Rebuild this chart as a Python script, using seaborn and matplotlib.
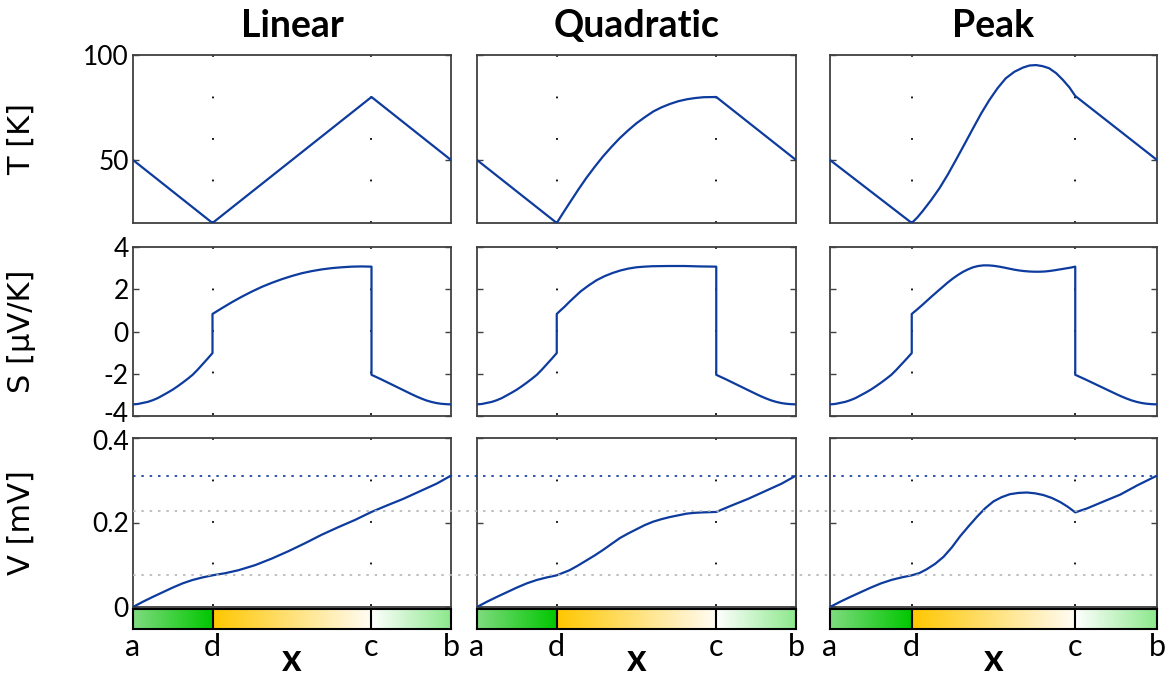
import numpy as np
import matplotlib
matplotlib.use("Agg")
import matplotlib.pyplot as plt
import matplotlib.transforms as mtransforms
import seaborn as sns

# ---------------- data ----------------
col_titles = ["Linear", "Quadratic", "Peak"]
row_labels = ["T [K]", "S [\u03bcV/K]", "V [mV]"]
pos_labels = ["a", "d", "c", "b"]
pos_values = [0, 1, 3, 4]

# Temperature profiles
T_lin_x = [0, 1, 3, 4]
T_lin = [50, 20, 80, 50]
T_quad_x = [0, 1, 1.08, 1.16, 1.265, 1.37, 1.475, 1.58, 1.685, 1.79, 1.895, 2.0,
            2.105, 2.21, 2.315, 2.42, 2.525, 2.63, 2.735, 2.84, 3.0, 4]
T_quad = [50, 20, 24.8, 29.5, 35.6, 41.4, 46.7, 51.7, 56.2, 60.4, 64.1, 67.5,
          70.4, 73.1, 75.1, 76.7, 78.0, 78.9, 79.5, 79.9, 80, 50]
T_peak_x = [0, 1, 1.065, 1.13, 1.235, 1.34, 1.44, 1.54, 1.645, 1.75, 1.85, 1.95,
            2.05, 2.15, 2.255, 2.36, 2.44, 2.52, 2.60, 2.68, 2.765, 2.85, 2.93, 3.0, 4]
T_peak = [50, 20, 22.5, 25.5, 30.8, 36.6, 43.0, 50.0, 57.5, 65.1, 72.2, 78.6,
          84.2, 88.9, 92.0, 94.0, 95.0, 95.2, 94.7, 93.7, 91.4, 88.1, 84.5, 80.5, 50]

# Seebeck coefficient, outer material (a-d and c-b)
S_ad_x = [0, 0.0625, 0.125, 0.1875, 0.25, 0.3125, 0.375, 0.4375, 0.5, 0.5625,
          0.625, 0.6875, 0.75, 0.8125, 0.875, 0.9375, 1.0]
S_ad = [-3.45, -3.43, -3.38, -3.33, -3.25, -3.15, -3.02, -2.89, -2.75, -2.59,
        -2.42, -2.24, -2.05, -1.81, -1.55, -1.29, -1.02]
S_cb_x = [3.0, 3.0625, 3.125, 3.1875, 3.25, 3.3125, 3.375, 3.4375, 3.5, 3.5625,
          3.625, 3.6875, 3.75, 3.8125, 3.875, 3.9375, 4.0]
S_cb = [-2.05, -2.16, -2.27, -2.385, -2.50, -2.615, -2.73, -2.845, -2.96, -3.07,
        -3.17, -3.26, -3.33, -3.385, -3.42, -3.44, -3.45]
# Seebeck coefficient, inner material (d-c)
S_lin_dc_x = [1.0, 1.125, 1.25, 1.375, 1.5, 1.625, 1.75, 1.875, 2.0, 2.125, 2.25,
              2.375, 2.5, 2.625, 2.75, 2.875, 3.0]
S_lin_dc = [0.83, 1.12, 1.40, 1.66, 1.90, 2.12, 2.31, 2.48, 2.63, 2.76, 2.86,
            2.94, 3.00, 3.04, 3.07, 3.08, 3.07]
S_quad_dc_x = [1.0, 1.05, 1.1, 1.15, 1.2, 1.3, 1.4, 1.5, 1.6, 1.7, 1.8, 1.9, 2.0,
               2.1, 2.2, 2.4, 2.6, 2.8, 3.0]
S_quad_dc = [0.83, 1.01, 1.18, 1.37, 1.55, 1.90, 2.18, 2.43, 2.62, 2.77, 2.89,
             2.98, 3.04, 3.07, 3.09, 3.10, 3.10, 3.08, 3.07]
S_peak_dc_x = [1.0, 1.065, 1.13, 1.19, 1.25, 1.3125, 1.375, 1.4375, 1.5, 1.5625,
               1.625, 1.6875, 1.75, 1.8125, 1.875, 1.9375, 2.0, 2.0625, 2.125, 2.1875,
               2.25, 2.3125, 2.375, 2.4375, 2.5, 2.5625, 2.625, 2.6875, 2.75,
               2.8125, 2.875, 2.9375, 3.0]
S_peak_dc = [0.83, 1.04, 1.26, 1.47, 1.68, 1.89, 2.10, 2.31, 2.50, 2.67,
             2.82, 2.94, 3.04, 3.10, 3.13, 3.13, 3.11, 3.075, 3.03, 2.98,
             2.93, 2.89, 2.86, 2.84, 2.83, 2.83, 2.84, 2.865, 2.90,
             2.94, 2.98, 3.02, 3.07]

# Voltage
V_ad_x = [0, 0.125, 0.25, 0.375, 0.5, 0.625, 0.75, 0.875, 1.0]
V_ad = [0, 0.0125, 0.024, 0.035, 0.046, 0.056, 0.064, 0.070, 0.075]
V_lin_dc_x = [1.0, 1.16, 1.325, 1.535, 1.744, 1.954, 2.164, 2.373, 2.583, 2.792, 3.0]
V_lin_dc = [0.075, 0.080, 0.087, 0.099, 0.1145, 0.132, 0.151, 0.171, 0.189, 0.206, 0.225]
V_quad_dc_x = [1.0, 1.16, 1.265, 1.37, 1.475, 1.58, 1.685, 1.79, 1.895, 2.0, 2.105,
               2.21, 2.315, 2.42, 2.525, 2.63, 2.735, 2.84, 3.0]
V_quad_dc = [0.075, 0.087, 0.098, 0.110, 0.122, 0.135, 0.149, 0.163, 0.174, 0.184,
             0.194, 0.202, 0.208, 0.213, 0.217, 0.221, 0.223, 0.224, 0.225]
V_peak_dc_x = [1.0, 1.09, 1.18, 1.285, 1.39, 1.49, 1.59, 1.695, 1.80, 1.90, 2.0,
               2.10, 2.20, 2.305, 2.41, 2.51, 2.61, 2.715, 2.82, 2.91, 3.0]
V_peak_dc = [0.075, 0.080, 0.089, 0.102, 0.119, 0.141, 0.167, 0.191, 0.214, 0.234,
             0.250, 0.260, 0.267, 0.270, 0.271, 0.269, 0.265, 0.258, 0.248, 0.237, 0.224]
V_cb_x = [3.0, 3.19, 3.40, 3.61, 3.82, 4.0]
V_cb = [0.225, 0.240, 0.256, 0.274, 0.292, 0.311]
V_peak_cb_x = [3.0, 3.14, 3.35, 3.55, 3.76, 4.0]
V_peak_cb = [0.224, 0.233, 0.250, 0.266, 0.288, 0.311]

V_ref_blue = [0.311]
V_ref_gray = [0.227, 0.0755]

# ---------------- styling ----------------
sns.set_theme(style="white")
plt.rcParams["font.family"] = ["Lato", "DejaVu Sans"]
for k in ["text.color", "axes.labelcolor", "xtick.color", "ytick.color"]:
    plt.rcParams[k] = "black"

LINE = "#0d3b9e"
FRAME = "#404040"
W, H = 1168, 675

def rect(l, r, t, b):
    return [l / W, 1 - b / H, (r - l) / W, (b - t) / H]

cols = [(133, 451), (477, 796), (830, 1157)]
rows = [(55, 223), (247, 416), (438, 607)]
cbar_tb = (609, 629)

fig = plt.figure(figsize=(11.68, 6.75), dpi=100)

T_data = [(T_lin_x, T_lin), (T_quad_x, T_quad), (T_peak_x, T_peak)]
S_dc = [(S_lin_dc_x, S_lin_dc), (S_quad_dc_x, S_quad_dc), (S_peak_dc_x, S_peak_dc)]
V_dc = [(V_lin_dc_x, V_lin_dc), (V_quad_dc_x, V_quad_dc), (V_peak_dc_x, V_peak_dc)]
V_cbs = [(V_cb_x, V_cb), (V_cb_x, V_cb), (V_peak_cb_x, V_peak_cb)]

ylims = [(20, 100), (-4, 4), (0, 0.4)]
yticks = [[50, 100], [-4, -2, 0, 2, 4], [0, 0.2, 0.4]]
yticklabels = [["50", "100"], ["-4", "-2", "0", "2", "4"], ["0", "0.2", "0.4"]]

TICK_FS = 19
LABEL_FS = 22
TITLE_FS = 27

def shift_label(lbl, dy_px):
    lbl.set_transform(lbl.get_transform() +
                      mtransforms.ScaledTranslation(0, dy_px / 100.0, fig.dpi_scale_trans))

for j, (l, r) in enumerate(cols):
    Sx = S_ad_x + S_dc[j][0] + S_cb_x
    Sy = S_ad + S_dc[j][1] + S_cb
    Vx = V_ad_x + V_dc[j][0][1:] + V_cbs[j][0][1:]
    Vy = V_ad + V_dc[j][1][1:] + V_cbs[j][1][1:]
    series = [T_data[j], (Sx, Sy), (Vx, Vy)]
    for i, (t, b) in enumerate(rows):
        ax = fig.add_axes(rect(l, r, t, b))
        xs, ys = series[i]
        sns.lineplot(x=xs, y=ys, ax=ax, estimator=None, sort=False,
                     color=LINE, lw=1.6, zorder=3)
        ax.set_xlim(0, 4)
        ax.set_ylim(*ylims[i])
        ax.set_yticks(yticks[i])
        ax.set_xticks([])
        ax.tick_params(axis="y", direction="in", length=4, width=1,
                       color=FRAME, left=True, right=True, pad=3)
        if j == 0:
            ax.set_yticklabels(yticklabels[i], fontsize=TICK_FS)
            ax.set_ylabel(row_labels[i], fontsize=LABEL_FS, family=["DejaVu Sans"])
            ax.yaxis.set_label_coords(-0.305, 0.5)
            tl = ax.get_yticklabels()
            if i == 1:
                shift_label(tl[0], 4)     # "-4" sits a little higher
            if i == 2:
                shift_label(tl[-1], -2)   # "0.4"
        else:
            ax.set_yticklabels([])
        for sp in ax.spines.values():
            sp.set_color(FRAME)
            sp.set_linewidth(1.3)
        for xv in pos_values[1:3]:
            ax.plot([xv, xv], [1, 0], transform=ax.get_xaxis_transform(),
                    color="black", lw=1.3, ls=(0, (1.0, 22.0)), zorder=2)
        if i == 0:
            ax.set_title(col_titles[j], fontsize=TITLE_FS, fontweight="bold", pad=13)
        ax.set_facecolor("white")

    # colour strip below the V panel
    cax = fig.add_axes(rect(l, r, cbar_tb[0], cbar_tb[1]))
    grads = [((0.50, 0.86, 0.50), (0.0, 0.78, 0.0), 0, 1),
             ((1.0, 0.78, 0.0), (1.0, 0.99, 0.96), 1, 3),
             ((1.0, 1.0, 1.0), (0.55, 0.91, 0.55), 3, 4)]
    for c0, c1, x0, x1 in grads:
        tt = np.linspace(0, 1, 256)[None, :, None]
        img = np.array(c0)[None, None, :] * (1 - tt) + np.array(c1)[None, None, :] * tt
        cax.imshow(img, extent=[x0, x1, 0, 1], aspect="auto", interpolation="bilinear")
    for xv in pos_values[1:3]:
        cax.axvline(xv, color="black", lw=1.5)
    cax.set_xlim(0, 4)
    cax.set_ylim(0, 1)
    for sp in cax.spines.values():
        sp.set_color("black")
        sp.set_linewidth(1.5)
    cax.set_yticks([])
    cax.set_xticks(pos_values)
    cax.set_xticklabels(pos_labels, fontsize=TICK_FS + 3)
    cax.tick_params(axis="x", length=0, pad=3)
    cax.set_xlabel("x", fontsize=27, fontweight="bold")
    cax.xaxis.label.set_va("center")
    cax.xaxis.set_label_coords(0.5, -1.55)

# reference levels spanning the whole V row
ov = fig.add_axes(rect(cols[0][0], cols[2][1], rows[2][0], rows[2][1]))
ov.patch.set_visible(False)
ov.set_xlim(0, 1)
ov.set_ylim(0, 0.4)
ov.axis("off")
for v in V_ref_blue:
    ov.axhline(v, color=LINE, lw=1.2, ls=(0, (1.5, 3.5)))
for v in V_ref_gray:
    ov.axhline(v, color="#b5b5b5", lw=1.2, ls=(0, (1.5, 3.5)))

fig.savefig("out.png", dpi=100, facecolor="white")
